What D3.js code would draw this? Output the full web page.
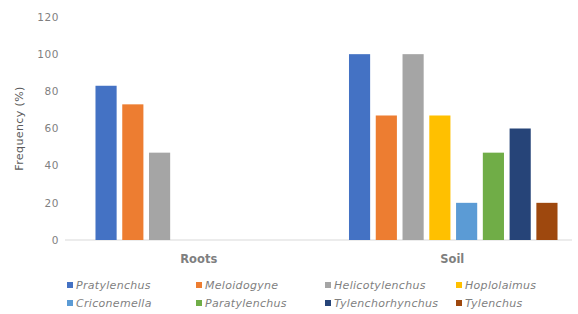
<!DOCTYPE html>
<meta charset="utf-8">
<script src="https://d3js.org/d3.v7.min.js"></script>
<style>
  body { margin: 0; background: #fff; }
  text { font-family: "DejaVu Sans", sans-serif; }
</style>
<div id="my_dataviz"></div>
<script>
  // categories and series
  const groups = ["Roots", "Soil"]
  const species = ["Pratylenchus", "Meloidogyne", "Helicotylenchus", "Hoplolaimus",
    "Criconemella", "Paratylenchus", "Tylenchorhynchus", "Tylenchus"]
  const colors = ["#4472C4", "#ED7D31", "#A5A5A5", "#FFC000",
    "#5B9BD5", "#70AD47", "#264478", "#9E480E"]

  // frequency (%) per species, one array per group
  const rootsValues = [83, 73, 47, 0, 0, 0, 0, 0]
  const soilValues = [100, 67, 100, 67, 20, 47, 60, 20]
  const yTicks = [0, 20, 40, 60, 80, 100, 120]

  const data = [
    {group: "Roots", values: rootsValues},
    {group: "Soil", values: soilValues}
  ]

  const W = 578, H = 314
  const margin = {top: 17, right: -2, bottom: 74, left: 73}

  const svg = d3.select("#my_dataviz")
    .append("svg")
      .attr("width", W)
      .attr("height", H)

  const x0 = d3.scaleBand()
    .domain(groups)
    .range([margin.left, W - margin.right])

  const x1 = d3.scaleBand()
    .domain(species)
    .range([0, x0.bandwidth()])
    .paddingInner(0.21)
    .paddingOuter(0.84)

  const y = d3.scaleLinear()
    .domain([0, 120])
    .range([H - margin.bottom, margin.top])

  // baseline
  svg.append("line")
    .attr("x1", margin.left - 8)
    .attr("x2", 572)
    .attr("y1", y(0))
    .attr("y2", y(0))
    .attr("stroke", "#d9d9d9")
    .attr("stroke-width", 1)

  // y tick labels
  svg.append("g")
    .selectAll("text")
    .data(yTicks)
    .join("text")
      .attr("x", 59)
      .attr("y", d => y(d))
      .attr("dy", "0.35em")
      .attr("text-anchor", "end")
      .attr("font-size", 10.5)
      .attr("letter-spacing", 0.6)
      .attr("fill", "#7f7f7f")
      .text(d => d)

  // y title
  svg.append("text")
    .attr("transform", `translate(23,${(y(0) + y(120)) / 2}) rotate(-90)`)
    .attr("text-anchor", "middle")
    .attr("font-size", 11)
    .attr("letter-spacing", 0.4)
    .attr("fill", "#595959")
    .text("Frequency (%)")

  // bars
  const g = svg.append("g")
    .selectAll("g")
    .data(data)
    .join("g")
      .attr("transform", d => `translate(${x0(d.group)},0)`)

  g.selectAll("rect")
    .data(d => d.values.map((v, i) => ({name: species[i], value: v, color: colors[i]})).filter(e => e.value > 0))
    .join("rect")
      .attr("x", d => x1(d.name))
      .attr("y", d => y(d.value))
      .attr("width", x1.bandwidth())
      .attr("height", d => y(0) - y(d.value))
      .attr("fill", d => d.color)

  // category labels
  svg.append("g")
    .selectAll("text")
    .data(groups)
    .join("text")
      .attr("x", d => x0(d) + x0.bandwidth() / 2 - 1)
      .attr("y", 263)
      .attr("text-anchor", "middle")
      .attr("font-size", 11.5)
      .attr("font-weight", "bold")
      .attr("fill", "#7f7f7f")
      .text(d => d)

  // legend, 4 columns x 2 rows
  const legendX = [67, 196, 325, 456]
  const legendY = [285, 303]
  const legend = svg.append("g")
    .selectAll("g")
    .data(species)
    .join("g")
      .attr("transform", (d, i) => `translate(${legendX[i % 4]},${legendY[Math.floor(i / 4)]})`)

  legend.append("rect")
    .attr("x", 0)
    .attr("y", -3)
    .attr("width", 6)
    .attr("height", 6)
    .attr("fill", (d, i) => colors[i])

  legend.append("text")
    .attr("x", 9)
    .attr("dy", "0.35em")
    .attr("font-size", 11)
    .attr("letter-spacing", 0.3)
    .attr("font-style", "italic")
    .attr("fill", "#7f7f7f")
    .text(d => d)
</script>
